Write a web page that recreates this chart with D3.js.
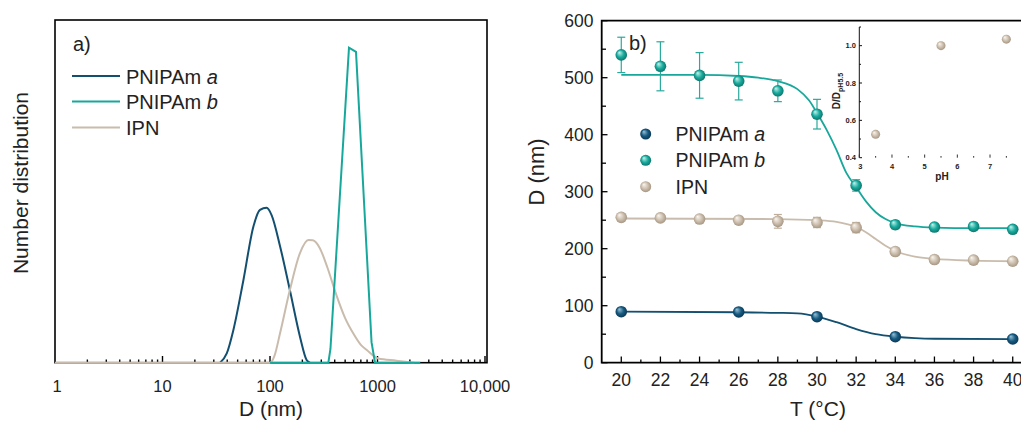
<!DOCTYPE html>
<html><head><meta charset="utf-8">
<script src="https://cdn.jsdelivr.net/npm/d3@7"></script>
<style>
html,body{margin:0;padding:0;background:#fff;}
svg{display:block;font-family:Arial,"Liberation Sans",sans-serif;}
</style></head>
<body>
<svg id="c" width="1021" height="421"></svg>
<script>
// ---------- Panel a: number distributions (D in nm, value in % of axis height) ----------
const seriesNames = ["PNIPAm a", "PNIPAm b", "IPN"];
const colA = "#134f70", colB = "#17a89b", colIPN = "#c9bcac";

const distA_D = [34.3, 39.6, 45.6, 56.5, 70, 80.7, 93, 103.7, 124, 153, 190, 219, 235];
const distA_V = [0, 2.7, 9.5, 24, 39.7, 44.6, 45.2, 43, 34, 21.2, 7.6, 0.8, 0];

const distIPN_D = [1, 100, 110, 124, 153, 190, 228, 250, 290, 340, 417, 500, 596, 700, 795, 1018, 1500, 2200];
const distIPN_V = [0, 0, 2, 8.6, 21.2, 32, 35.8, 35.7, 33.5, 28, 19.5, 13, 8.5, 5.2, 3.7, 1.2, 0.6, 0];

const distB_D = [100, 349, 365, 543, 631, 880, 948, 2500];
const distB_V = [0, 0, 4, 91.9, 90.7, 6, 0, 0];

const logTickLabels = ["1", "10", "100", "1000", "10,000"];
const logTickValues = [1, 10, 100, 1000, 10000];

// ---------- Panel b: D vs T ----------
const temps = [20, 22, 24, 26, 28, 30, 32, 34, 36, 38, 40];
const dB = [540, 520, 504, 494, 477, 436, 311, 242, 238, 239, 234];
const dBerr = [31, 43, 40, 33, 19, 26, 10, 7, 4, 4, 4];
const dIPN = [255, 254, 252, 250, 248, 246, 237, 195, 181, 180, 178];
const dIPNerr = [3, 3, 3, 3, 12, 9, 9, 4, 3, 3, 3];
const tempsA = [20, 26, 30, 34, 40];
const dA = [89.5, 89, 80.7, 45.6, 41.6];

// fitted curves
const fitB_T = [20, 24, 26, 27, 28, 29, 29.6, 30, 30.5, 31, 31.5, 32, 32.5, 33, 33.5, 34, 35, 36, 38, 40];
const fitB_D = [505, 505, 503, 500, 494, 480, 460, 438, 408, 373, 333, 308, 283, 264, 252, 245, 239, 237, 236, 236];
const fitIPN_T = [20, 28, 30, 31, 32, 32.5, 33, 33.5, 34, 35, 36, 38, 40];
const fitIPN_D = [253, 252, 250, 247, 238, 229, 217, 205, 196, 186, 182, 179, 178];
const fitA_T = [20, 26, 28, 29, 30, 31, 32, 33, 34, 35, 36, 40];
const fitA_D = [89.5, 88.5, 87.5, 86.5, 81, 71, 59, 50, 45.5, 43, 42, 41.5];

const yTicksB = [0, 100, 200, 300, 400, 500, 600];
const xTicksB = [20, 22, 24, 26, 28, 30, 32, 34, 36, 38, 40];

// ---------- Inset: D/D_pH5.5 vs pH ----------
const pH = [3.5, 5.5, 7.5];
const ratio = [0.525, 1.0, 1.035];
const insetYTicks = [0.4, 0.6, 0.8, 1.0];
const insetXTicks = [3, 4, 5, 6, 7];

const svg = d3.select("#c");
const defs = svg.append("defs");
function ballGrad(id, hi, mid, lo) {
  const g = defs.append("radialGradient").attr("id", id)
    .attr("cx", "50%").attr("cy", "50%").attr("r", "55%").attr("fx", "32%").attr("fy", "28%");
  g.append("stop").attr("offset", "0%").attr("stop-color", hi);
  g.append("stop").attr("offset", "55%").attr("stop-color", mid);
  g.append("stop").attr("offset", "100%").attr("stop-color", lo);
}
ballGrad("gA", "#9cc3d8", "#165a80", "#0a3350");
ballGrad("gB", "#c8f4ee", "#19ab9e", "#0b6e65");
ballGrad("gI", "#faf6f0", "#cdbfae", "#a0907c");

// ================= Panel a =================
const ax = d3.scaleLog().domain([1, 10000]).range([55, 485]);
const ay = d3.scaleLinear().domain([0, 100]).range([362.7, 20]);

const pa = svg.append("g");
pa.append("rect").attr("x", 55).attr("y", 20).attr("width", 432).attr("height", 342.7)
  .attr("fill", "none").attr("stroke", "#000").attr("stroke-width", 1.6);

// log ticks pointing up
const minorTicks = [];
for (let dec = 1; dec < 10000; dec *= 10) for (let k = 2; k <= 9; k++) minorTicks.push(dec * k);
pa.selectAll(".mn").data(minorTicks).join("line")
  .attr("x1", d => ax(d)).attr("x2", d => ax(d)).attr("y1", 362.7).attr("y2", 359.5)
  .attr("stroke", "#000").attr("stroke-width", 1.4);
pa.selectAll(".mj").data(logTickValues.slice(1)).join("line")
  .attr("x1", d => ax(d)).attr("x2", d => ax(d)).attr("y1", 362.7).attr("y2", 356)
  .attr("stroke", "#000").attr("stroke-width", 1.4);
pa.selectAll(".tl").data(logTickValues).join("text")
  .attr("x", (d, i) => ax(d) + (i === 0 ? 2 : 0)).attr("y", 392)
  .attr("text-anchor", "middle").attr("font-size", 16.5).attr("fill", "#222")
  .text((d, i) => logTickLabels[i]);

const lineLog = (Ds, Vs, curve) => d3.line().x((d, i) => ax(Ds[i])).y((d, i) => ay(Vs[i])).curve(curve)(Ds);
pa.append("path").attr("d", lineLog(distA_D, distA_V, d3.curveMonotoneX))
  .attr("fill", "none").attr("stroke", colA).attr("stroke-width", 2);
pa.append("path").attr("d", lineLog(distIPN_D, distIPN_V, d3.curveMonotoneX))
  .attr("fill", "none").attr("stroke", colIPN).attr("stroke-width", 2);
pa.append("path").attr("d", lineLog(distB_D, distB_V, d3.curveLinear))
  .attr("fill", "none").attr("stroke", colB).attr("stroke-width", 2);

pa.append("text").attr("x", 73).attr("y", 51).attr("font-size", 20).attr("fill", "#222").text("a)");
const legA = [[colA, "a"], [colB, "b"], [colIPN, null]];
const legAy = [76, 101.5, 127.5];
legA.forEach((l, i) => {
  pa.append("line").attr("x1", 72).attr("x2", 120).attr("y1", legAy[i]).attr("y2", legAy[i])
    .attr("stroke", l[0]).attr("stroke-width", 2);
  const t = pa.append("text").attr("x", 126).attr("y", legAy[i] + 7.5).attr("font-size", 20).attr("fill", "#222");
  if (l[1]) { t.append("tspan").text("PNIPAm "); t.append("tspan").attr("font-style", "italic").text(l[1]); }
  else t.text("IPN");
});
pa.append("text").attr("x", 271).attr("y", 416).attr("text-anchor", "middle").attr("font-size", 21)
  .attr("fill", "#222").text("D (nm)");
pa.append("text").attr("transform", "translate(28,183) rotate(-90)").attr("text-anchor", "middle")
  .attr("font-size", 21).attr("fill", "#222").text("Number distribution");

// ================= Panel b =================
const bx = d3.scaleLinear().domain([19, 41]).range([601.7, 1032.3]);
const by = d3.scaleLinear().domain([0, 600]).range([362.7, 20.7]);
const pb = svg.append("g");

// minor ticks
const xMinor = d3.range(21, 41, 2);
const yMinor = d3.range(50, 600, 100);
pb.selectAll(".xmj").data(xTicksB).join("line")
  .attr("x1", d => bx(d)).attr("x2", d => bx(d)).attr("y1", 362.7).attr("y2", 356.5)
  .attr("stroke", "#000").attr("stroke-width", 1.3);
pb.selectAll(".xmn").data(xMinor).join("line")
  .attr("x1", d => bx(d)).attr("x2", d => bx(d)).attr("y1", 362.7).attr("y2", 359.5)
  .attr("stroke", "#000").attr("stroke-width", 1.3);
pb.selectAll(".ymj").data(yTicksB).join("line")
  .attr("x1", 601.7).attr("x2", 607.5).attr("y1", d => by(d)).attr("y2", d => by(d))
  .attr("stroke", "#000").attr("stroke-width", 1.3);
pb.selectAll(".ymn").data(yMinor).join("line")
  .attr("x1", 601.7).attr("x2", 606).attr("y1", d => by(d)).attr("y2", d => by(d))
  .attr("stroke", "#000").attr("stroke-width", 1.3);
pb.selectAll(".xtl").data(xTicksB).join("text")
  .attr("x", d => bx(d)).attr("y", 386).attr("text-anchor", "middle").attr("font-size", 17.5)
  .attr("fill", "#222").text(d => d);
pb.selectAll(".ytl").data(yTicksB).join("text")
  .attr("x", 593.5).attr("y", d => by(d) + 6).attr("text-anchor", "end").attr("font-size", 17.5)
  .attr("fill", "#222").text(d => d);

// frame
pb.append("path").attr("d", "M1021,20.7 H601.7 V362.7 H1021")
  .attr("fill", "none").attr("stroke", "#000").attr("stroke-width", 1.8);

// inset
const ix = d3.scaleLinear().domain([3, 8]).range([859.3, 1022.7]);
const iy = d3.scaleLinear().domain([0.4, 1.1]).range([157.7, 27]);
const pi = svg.append("g");
pi.append("line").attr("x1", 859.3).attr("x2", 859.3).attr("y1", 27).attr("y2", 157.7)
  .attr("stroke", "#111").attr("stroke-width", 1);
pi.selectAll(".iyt").data(d3.range(0.4, 1.101, 0.1)).join("line")
  .attr("x1", 859.3).attr("x2", d => (Math.round(d * 10) % 2 === 0 ? 862 : 861)).attr("y1", d => iy(d)).attr("y2", d => iy(d))
  .attr("stroke", "#111").attr("stroke-width", 1);
pi.selectAll(".ixt").data(d3.range(3, 8.01, 0.5)).join("line")
  .attr("x1", d => ix(d)).attr("x2", d => ix(d)).attr("y1", 157.7).attr("y2", d => (d % 1 === 0 ? 154.5 : 156))
  .attr("stroke", "#333").attr("stroke-width", 1);
pi.selectAll(".iytl").data(insetYTicks).join("text")
  .attr("x", 856).attr("y", d => iy(d) + 2.5).attr("text-anchor", "end").attr("font-size", 7.5)
  .attr("font-weight", "bold").attr("fill", "#222").text(d => d.toFixed(1));
pi.selectAll(".ixtl").data(insetXTicks).join("text")
  .attr("x", d => ix(d) + (d === 3 ? 1 : 0)).attr("y", 168.5).attr("text-anchor", "middle").attr("font-size", 7.5)
  .attr("font-weight", "bold").attr("fill", "#222").text(d => d);
pi.append("text").attr("x", 942).attr("y", 180).attr("text-anchor", "middle").attr("font-size", 10)
  .attr("font-weight", "bold").attr("fill", "#222").text("pH");
const yl = pi.append("text").attr("transform", "translate(840,91) rotate(-90)").attr("text-anchor", "middle")
  .attr("font-size", 10).attr("font-weight", "bold").attr("fill", "#222");
yl.append("tspan").text("D/D");
yl.append("tspan").attr("font-size", 7).attr("dy", 2.5).text("pH5.5");
pi.selectAll(".ib").data(pH).join("circle")
  .attr("cx", d => ix(d)).attr("cy", (d, i) => iy(ratio[i])).attr("r", 4.5).attr("fill", "url(#gI)");

// fit lines
const lineT = (Ts, Ds) => d3.line().x((d, i) => bx(Ts[i])).y((d, i) => by(Ds[i])).curve(d3.curveMonotoneX)(Ts);
pb.append("path").attr("d", lineT(fitA_T, fitA_D)).attr("fill", "none").attr("stroke", colA).attr("stroke-width", 1.8);
pb.append("path").attr("d", lineT(fitIPN_T, fitIPN_D)).attr("fill", "none").attr("stroke", colIPN).attr("stroke-width", 1.8);
pb.append("path").attr("d", lineT(fitB_T, fitB_D)).attr("fill", "none").attr("stroke", colB).attr("stroke-width", 1.8);

// error bars
function errBars(vals, errs, col) {
  const g = pb.append("g").attr("stroke", col).attr("stroke-width", 1.2);
  temps.forEach((t, i) => {
    const x = bx(t), y1 = by(vals[i] + errs[i]), y2 = by(vals[i] - errs[i]);
    g.append("line").attr("x1", x).attr("x2", x).attr("y1", y1).attr("y2", y2);
    g.append("line").attr("x1", x - 4).attr("x2", x + 4).attr("y1", y1).attr("y2", y1);
    g.append("line").attr("x1", x - 4).attr("x2", x + 4).attr("y1", y2).attr("y2", y2);
  });
}
errBars(dIPN, dIPNerr, "#bfae9a");
errBars(dB, dBerr, "#2aa99d");

pb.selectAll(".pI").data(temps).join("circle")
  .attr("cx", d => bx(d)).attr("cy", (d, i) => by(dIPN[i])).attr("r", 5.8).attr("fill", "url(#gI)");
pb.selectAll(".pB").data(temps).join("circle")
  .attr("cx", d => bx(d)).attr("cy", (d, i) => by(dB[i])).attr("r", 5.8).attr("fill", "url(#gB)");
pb.selectAll(".pA").data(tempsA).join("circle")
  .attr("cx", d => bx(d)).attr("cy", (d, i) => by(dA[i])).attr("r", 5.8).attr("fill", "url(#gA)");

pb.append("text").attr("x", 629).attr("y", 50).attr("font-size", 20).attr("fill", "#222").text("b)");

// legend b
const legB = [["url(#gA)", "a"], ["url(#gB)", "b"], ["url(#gI)", null]];
const legBy = [134, 160.3, 186.7];
legB.forEach((l, i) => {
  pb.append("circle").attr("cx", 645.7).attr("cy", legBy[i]).attr("r", 5.5).attr("fill", l[0]);
  const t = pb.append("text").attr("x", 675.5).attr("y", legBy[i] + 7).attr("font-size", 19.5).attr("fill", "#222");
  if (l[1]) { t.append("tspan").text("PNIPAm "); t.append("tspan").attr("font-style", "italic").text(l[1]); }
  else t.text("IPN");
});

pb.append("text").attr("x", 818).attr("y", 416).attr("text-anchor", "middle").attr("font-size", 21)
  .attr("fill", "#222").text("T (°C)");
pb.append("text").attr("transform", "translate(544,172) rotate(-90)").attr("text-anchor", "middle")
  .attr("font-size", 22).attr("fill", "#222").text("D (nm)");
</script>
</body></html>
